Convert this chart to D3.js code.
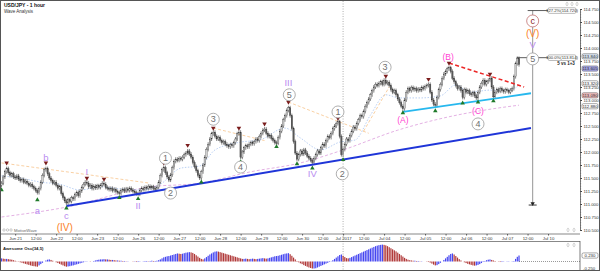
<!DOCTYPE html>
<html>
<head>
<meta charset="utf-8">
<script src="https://cdn.jsdelivr.net/npm/d3@7"></script>
<style>
body { margin: 0; background: #fff; }
svg { display: block; font-family: "Liberation Sans", Arial, sans-serif; }
</style>
</head>
<body>
<svg id="chart" width="600" height="271"></svg>
<script>
// hourly closes, bar 0 = Jun 20 16:00, bar 8 = Jun 21 00:00
var firstOpen = 111.36;
var closes = [
  111.40,111.52,111.62,111.68,111.60,111.55,111.58,111.52,111.50,111.54,111.48,111.45,
  111.47,111.42,111.44,111.40,111.36,111.38,111.33,111.30,111.26,111.22,111.30,111.42,
  111.55,111.66,111.68,111.58,111.50,111.45,111.40,111.42,111.36,111.30,111.33,111.20,
  111.12,111.06,111.02,111.08,111.05,111.12,111.10,111.18,111.22,111.16,111.25,111.32,
  111.38,111.42,111.40,111.33,111.36,111.30,111.34,111.31,111.35,111.32,111.36,111.40,
  111.38,111.32,111.30,111.28,111.30,111.26,111.28,111.24,111.22,111.20,111.26,111.28,
  111.25,111.29,111.26,111.30,111.27,111.24,111.22,111.20,111.19,111.26,111.30,111.28,
  111.32,111.30,111.34,111.31,111.33,111.30,111.28,111.32,111.42,111.55,111.66,111.70,
  111.60,111.52,111.46,111.56,111.70,111.82,111.86,111.84,111.88,111.86,111.90,111.95,
  111.98,112.02,111.96,111.90,111.80,111.72,111.64,111.55,111.50,111.62,111.75,111.90,
  112.05,112.15,112.25,112.35,112.38,112.30,112.25,112.28,112.22,112.18,112.20,112.15,
  112.12,112.10,112.14,112.12,112.18,112.25,112.35,112.38,111.90,112.00,112.08,112.12,
  112.10,112.15,112.18,112.16,112.20,112.25,112.22,112.30,112.36,112.42,112.44,112.36,
  112.30,112.32,112.26,112.22,112.18,112.17,112.28,112.40,112.50,112.62,112.70,112.80,
  112.85,112.70,112.45,112.20,111.98,111.86,111.95,112.02,111.96,112.04,111.98,111.92,
  111.88,111.84,111.80,111.88,111.95,112.02,111.98,112.08,112.15,112.12,112.22,112.30,
  112.28,112.36,112.45,112.50,112.55,112.58,112.30,111.95,112.05,112.15,112.25,112.22,
  112.32,112.40,112.48,112.45,112.55,112.62,112.70,112.68,112.78,112.88,112.95,113.02,
  113.10,113.18,113.25,113.30,113.28,113.32,113.35,113.30,113.38,113.32,113.34,113.28,
  113.20,113.15,113.18,113.10,113.02,112.95,112.88,112.83,113.00,113.15,113.22,113.18,
  113.24,113.20,113.22,113.18,113.21,113.19,113.24,113.22,113.26,113.28,113.30,113.15,
  113.00,112.92,112.90,113.05,113.20,113.30,113.42,113.50,113.55,113.60,113.62,113.55,
  113.42,113.35,113.28,113.22,113.25,113.18,113.05,113.20,113.15,113.18,113.12,113.10,
  113.14,113.08,113.04,113.15,113.25,113.32,113.38,113.30,113.35,113.38,113.42,113.25,
  113.06,113.15,113.20,113.17,113.22,113.18,113.16,113.20,113.18,113.15,113.19,113.22,
  113.45,113.70,113.80,113.68
];

// Awesome Oscillator, one value per bar
var aoValues = [
  0.12,0.11,0.10,0.10,0.09,0.08,0.07,0.05,
  0.03,0.01,-0.01,-0.03,-0.05,-0.07,-0.09,-0.11,-0.13,-0.15,-0.17,-0.18,-0.19,-0.20,
  -0.15,-0.10,-0.05,0.00,0.04,0.07,0.08,
  0.06,0.03,0.00,-0.03,-0.06,-0.09,-0.12,-0.15,-0.18,-0.20,
  -0.19,-0.18,-0.16,-0.15,-0.13,-0.11,-0.09,-0.07,-0.05,-0.03,-0.01,0.01,
  0.00,-0.01,0.00,0.02,
  0.04,0.06,0.07,0.08,0.08,0.09,0.08,0.08,0.07,0.06,0.06,0.05,
  0.04,0.04,0.03,0.03,0.02,0.02,0.01,0.01,0.00,0.00,-0.01,-0.01,-0.02,-0.02,-0.01,
  0.00,0.01,0.02,0.02,0.01,0.02,0.03,0.02,0.02,
  0.03,0.05,0.08,0.12,0.16,0.18,0.20,0.21,0.23,0.25,0.27,0.29,0.31,0.30,0.29,
  0.30,0.32,0.34,0.35,0.36,0.35,0.33,
  0.29,0.24,0.19,0.14,0.10,0.08,
  0.12,0.17,0.22,0.27,0.31,0.35,0.38,0.39,
  0.38,0.36,0.34,0.32,0.30,0.28,0.26,0.24,0.22,0.20,0.18,0.16,0.14,0.12,
  0.10,0.10,0.11,0.10,0.09,0.10,0.11,0.10,0.09,0.10,0.11,0.12,0.13,0.12,0.11,0.12,
  0.14,0.16,0.18,0.20,0.21,0.22,0.24,0.26,0.28,0.30,0.31,0.32,
  0.28,0.22,0.15,0.08,0.02,-0.03,-0.07,
  -0.10,-0.14,-0.17,-0.20,-0.23,-0.25,-0.27,-0.27,-0.26,
  -0.23,-0.20,-0.17,-0.14,-0.11,-0.08,-0.05,-0.02,0.01,0.05,
  0.10,0.15,0.20,0.25,0.27,
  0.22,0.17,0.13,0.12,
  0.14,0.17,0.20,0.23,0.26,0.29,0.32,0.35,0.38,0.41,0.44,0.47,0.50,0.53,0.56,0.59,0.61,0.63,0.64,0.65,
  0.64,0.62,0.59,0.55,0.51,0.47,0.43,0.39,0.34,0.29,0.24,0.19,0.14,0.10,0.07,
  0.05,0.04,0.03,0.03,0.02,0.02,0.01,0.01,0.00,0.00,-0.01,-0.02,-0.04,
  -0.08,-0.12,-0.15,-0.14,
  -0.10,-0.05,0.00,0.06,0.12,0.18,0.24,0.29,0.31,
  0.27,0.21,0.15,0.09,0.04,0.00,
  -0.03,-0.06,-0.09,-0.11,-0.13,-0.15,-0.16,-0.15,-0.13,-0.10,
  -0.06,-0.02,0.02,0.05,0.07,0.08,
  0.06,0.04,0.02,0.00,-0.01,-0.02,-0.02,-0.01,
  0.00,0.01,0.01,0.00,0.01,0.02,
  0.10,0.18,0.23
];

var timeLabels = ["Jun 21","12:00","Jun 22","12:00","Jun 23","12:00","Jun 26","12:00","Jun 27","12:00",
  "Jun 28","12:00","Jun 29","12:00","Jun 30","12:00","Jul 2017","12:00","Jul 04","12:00",
  "Jul 05","12:00","Jul 06","12:00","Jul 07","12:00","Jul 10"];
var priceTicks = [110.5,110.75,111,111.25,111.5,111.75,112,112.25,112.5,112.75,113,113.25,113.5,113.75,114,114.25,114.5,114.75];

// moving averages: [bar, price]
var fastMA = [[0,111.54],[11,111.50],[23,111.42],[34,111.38],[46,111.27],[58,111.33],[70,111.29],[81,111.27],
  [93,111.38],[105,111.69],[116,111.73],[125,112.04],[140,112.19],[151,112.23],[166,112.46],[175,112.27],
  [187,112.04],[198,112.19],[207,112.23],[216,112.71],[225,113.10],[233,113.04],[245,113.04],[257,113.08],
  [266,113.29],[274,113.15],[286,113.19],[298,113.19],[303,113.29]];
var slowMA = [[0,110.75],[38,110.94],[87,111.33],[116,111.40],[146,111.62],[175,111.79],[200,112.04],
  [232,112.42],[261,112.67],[296,112.87],[303,112.90]];

// trend lines: [bar1, price1, bar2, price2]
var blueLine = [38, 110.96, 310, 112.46];
var cyanLine = [235, 112.77, 310, 113.13];
var redLine = [262, 113.71, 306, 113.25];
var orangeLines = [[0, 111.79, 87, 111.40], [124, 112.46, 154, 112.22], [168, 112.96, 215, 112.36], [212, 112.40, 227, 113.25]];

// fractal markers [bar, price]
var fractalHighs = [[3,111.79],[26,111.79],[50,111.50],[60,111.48],[95,111.79],[109,112.13],[124,112.46],
  [139,112.46],[154,112.54],[168,112.96],[197,112.65],[225,113.46],[250,113.40],[262,113.71],[286,113.50]];
var fractalLows = [[0,111.27],[21,111.08],[38,110.92],[69,111.12],[80,111.10],[117,111.42],[140,111.81],
  [161,112.10],[173,111.77],[182,111.69],[200,111.85],[235,112.75],[254,112.79],[270,112.94],[279,112.96],[288,112.98]];

// wave labels [text, bar, price]
var minorWaves = [["a",21,110.87],["b",26,111.90],["c",38,110.77],["I",50,111.62],["II",80,110.96],
  ["III",168,113.33],["IV",182,111.58],["V",311,114.06]];
var intermediateWaves = [["(IV)",37,110.54],["(V)",311,114.27]];
var abcWaves = [["(A)",235,112.62],["(B)",261.5,113.83],["(C)",279,112.79]];
var circledWaves = [["1",96,111.88],["2",99,111.21],["3",124,112.63],["4",140,111.71],["5",168.5,113.10],
  ["1",197,112.77],["2",199.5,111.58],["3",224.6,113.63],["4",279,112.54],["5",311,113.79]];
var cycleWaves = [["c",311,114.52]];

var fibPrices = [114.72, 113.814];
var fibTexts = ["127.2%(114.720)", "100.0%(113.814)"];
var measureBar = 311, measureFrom = 114.72, measureTo = 110.98;

var markerPrices = [113.84, 113.605, 113.32, 113.09, 112.88];
var markerFills = ["#dbe7f3", "#a9a9ea", "#ffffff", "#f2c0c0", "#ffffff"];

var svg = d3.select("#chart");
var x = d3.scaleLinear().domain([0, 339]).range([1.5, 580.5]);
var y = d3.scaleLinear().domain([110.5, 114.75]).range([230, 9]);
var yAO = d3.scaleLinear().domain([-0.25, 0]).range([268, 261.5]);
var axisX = 580;

svg.append("defs").append("clipPath").attr("id", "clipMain")
  .append("rect").attr("x", 1).attr("y", 1).attr("width", axisX - 1).attr("height", 233);
svg.select("defs").append("clipPath").attr("id", "clipAO")
  .append("rect").attr("x", 1).attr("y", 241).attr("width", axisX - 1).attr("height", 29);

svg.append("rect").attr("x", 0).attr("y", 0).attr("width", 600).attr("height", 271).attr("fill", "#fff");

// dotted separator at month start
svg.append("line").attr("x1", x(200)).attr("x2", x(200)).attr("y1", 1).attr("y2", 270)
  .attr("stroke", "#999").attr("stroke-width", 0.8).attr("stroke-dasharray", "1,1.5");

var main = svg.append("g").attr("clip-path", "url(#clipMain)");

function lineOf(pts) {
  return d3.line().x(function(d){ return x(d[0]); }).y(function(d){ return y(d[1]); }).curve(d3.curveMonotoneX)(pts);
}
main.append("path").attr("d", lineOf(slowMA)).attr("fill", "none")
  .attr("stroke", "#e0a8e0").attr("stroke-width", 0.9).attr("stroke-dasharray", "3,2");
main.append("path").attr("d", lineOf(fastMA)).attr("fill", "none")
  .attr("stroke", "#a8c4f0").attr("stroke-width", 0.8).attr("stroke-dasharray", "1.5,1.5");
main.selectAll("line.orange").data(orangeLines).join("line")
  .attr("x1", function(d){ return x(d[0]); }).attr("y1", function(d){ return y(d[1]); })
  .attr("x2", function(d){ return x(d[2]); }).attr("y2", function(d){ return y(d[3]); })
  .attr("stroke", "#f7c48c").attr("stroke-width", 0.8).attr("stroke-dasharray", "3,2");

// candles
var bars = closes.map(function(c, i){ return {i: i, o: i ? closes[i - 1] : firstOpen, c: c}; });
main.selectAll("line.wick").data(bars).join("line")
  .attr("x1", function(d){ return x(d.i); }).attr("x2", function(d){ return x(d.i); })
  .attr("y1", function(d){ return y(Math.max(d.o, d.c)) - 2; })
  .attr("y2", function(d){ return y(Math.min(d.o, d.c)) + 2; })
  .attr("stroke", "#333").attr("stroke-width", 0.6);
main.selectAll("rect.body").data(bars).join("rect")
  .attr("x", function(d){ return x(d.i) - 0.7; }).attr("width", 1.4)
  .attr("y", function(d){ return y(Math.max(d.o, d.c)); })
  .attr("height", function(d){ return Math.max(0.8, Math.abs(y(d.o) - y(d.c))); })
  .attr("fill", function(d){ return d.c >= d.o ? "#d0d0d0" : "#5a5a5a"; })
  .attr("stroke", "#333").attr("stroke-width", 0.3);

// trend lines
function seg(l, color, w, dash) {
  main.append("line").attr("x1", x(l[0])).attr("y1", y(l[1])).attr("x2", x(l[2])).attr("y2", y(l[3]))
    .attr("stroke", color).attr("stroke-width", w).attr("stroke-dasharray", dash || null);
}
seg(blueLine, "#1f35d8", 2);
seg(cyanLine, "#27b8ee", 1.8);
seg(redLine, "#ec2727", 1.5, "4,2.5");

// fractals
main.selectAll("path.fh").data(fractalHighs).join("path")
  .attr("d", d3.symbol(d3.symbolTriangle).size(9))
  .attr("transform", function(d){ return "translate(" + x(d[0]) + "," + y(d[1]) + ") rotate(180)"; })
  .attr("fill", "#7a1c1c");
main.selectAll("path.fl").data(fractalLows).join("path")
  .attr("d", d3.symbol(d3.symbolTriangle).size(9))
  .attr("transform", function(d){ return "translate(" + x(d[0]) + "," + y(d[1]) + ")"; })
  .attr("fill", "#1f7a2a");

// measure tool and fib levels
svg.append("line").attr("x1", x(measureBar)).attr("x2", x(measureBar))
  .attr("y1", y(measureFrom)).attr("y2", y(measureTo)).attr("stroke", "#8a8a8a").attr("stroke-width", 0.9);
svg.append("line").attr("x1", x(measureBar) - 4).attr("x2", x(measureBar) + 4)
  .attr("y1", y(measureTo)).attr("y2", y(measureTo)).attr("stroke", "#222").attr("stroke-width", 0.9);
svg.append("path").attr("d", d3.symbol(d3.symbolTriangle).size(8))
  .attr("transform", "translate(" + x(measureBar) + "," + (y(measureTo) - 1.5) + ") rotate(180)").attr("fill", "#222");
fibPrices.forEach(function(p, k) {
  var x0 = k === 0 ? x(measureBar) - 5 : x(measureBar) - 16;
  svg.append("line").attr("x1", x0).attr("x2", 548).attr("y1", y(p)).attr("y2", y(p))
    .attr("stroke", "#333").attr("stroke-width", 0.8);
  svg.append("rect").attr("x", 548).attr("y", y(p) - 2.8).attr("width", 28).attr("height", 5.6)
    .attr("rx", 1.5).attr("fill", "#fff").attr("stroke", "#777").attr("stroke-width", 0.5);
  svg.append("text").attr("x", 562).attr("y", y(p) + 1.5).attr("text-anchor", "middle")
    .attr("font-size", 4.2).attr("fill", "#333").text(fibTexts[k]);
});
svg.append("text").attr("x", 566).attr("y", y(fibPrices[1]) + 7.5).attr("text-anchor", "middle")
  .attr("font-size", 4.5).attr("font-weight", "bold").attr("fill", "#222").text("5 vs 1+3");

// wave labels
var labels = svg.append("g");
function waveText(data, color, size) {
  labels.selectAll(null).data(data).join("text")
    .attr("x", function(d){ return x(d[1]); }).attr("y", function(d){ return y(d[2]); })
    .attr("dy", "0.35em").attr("text-anchor", "middle")
    .attr("font-size", size).attr("fill", color).text(function(d){ return d[0]; });
}
function circled(data, stroke, color) {
  var g = labels.selectAll(null).data(data).join("g")
    .attr("transform", function(d){ return "translate(" + x(d[1]) + "," + y(d[2]) + ")"; });
  g.append("circle").attr("r", 6).attr("fill", "#fff").attr("stroke", stroke).attr("stroke-width", 0.8);
  g.append("text").attr("dy", "0.36em").attr("text-anchor", "middle").attr("font-size", 9)
    .attr("fill", color).text(function(d){ return d[0]; });
}
waveText(minorWaves, "#b98cf0", 9.5);
waveText(intermediateWaves, "#fa8228", 10);
waveText(abcWaves, "#ff3fd2", 8.5);
circled(circledWaves, "#9a9a9a", "#6f6f6f");
circled(cycleWaves, "#c07070", "#8c1c1c");

// price axis
var pAxis = svg.append("g").attr("transform", "translate(" + axisX + ",0)")
  .call(d3.axisRight(y).tickValues(priceTicks).tickFormat(d3.format(".3f")).tickSize(2).tickPadding(1.5));
pAxis.select(".domain").attr("stroke", "#444").attr("stroke-width", 0.7);
pAxis.selectAll("line").attr("stroke", "#444");
pAxis.selectAll("text").attr("font-size", 4.3).attr("fill", "#333").attr("font-family", "Liberation Sans, Arial");
svg.append("g").attr("transform", "translate(" + axisX + ",0)")
  .call(d3.axisRight(y).tickValues(d3.range(0, 86).map(function(k){ return 110.5 + k * 0.05; })).tickFormat("").tickSize(1.2))
  .call(function(g){ g.select(".domain").remove(); g.selectAll("line").attr("stroke", "#555").attr("stroke-width", 0.5); });

// highlighted price markers
markerPrices.forEach(function(p, k) {
  svg.append("rect").attr("x", 582).attr("y", y(p) - 2.6).attr("width", 16).attr("height", 5.2)
    .attr("rx", 1.5).attr("fill", markerFills[k]).attr("stroke", "#555").attr("stroke-width", 0.5);
  svg.append("text").attr("x", 590).attr("y", y(p) + 1.5).attr("text-anchor", "middle")
    .attr("font-size", 4.3).attr("fill", "#222").text(d3.format(".3f")(p));
});

// time axis
var tAxis = svg.append("g").attr("transform", "translate(0,234)")
  .call(d3.axisBottom(x).tickValues(timeLabels.map(function(t, k){ return 8 + 12 * k; }))
    .tickFormat(function(d, k){ return timeLabels[k]; }).tickSize(1.5).tickPadding(1));
tAxis.select(".domain").attr("d", "M1,0H" + axisX).attr("stroke", "#555").attr("stroke-width", 0.7);
tAxis.selectAll("line").attr("stroke", "#555");
tAxis.selectAll("text").attr("font-size", 4.3).attr("fill", "#333").attr("font-family", "Liberation Sans, Arial");
svg.append("line").attr("x1", 1).attr("x2", axisX).attr("y1", 241.5).attr("y2", 241.5)
  .attr("stroke", "#555").attr("stroke-width", 0.7);

// AO panel
var ao = svg.append("g").attr("clip-path", "url(#clipAO)");
ao.selectAll("rect").data(aoValues).join("rect")
  .attr("x", function(d, i){ return x(i) - 0.6; }).attr("width", 1.2)
  .attr("y", function(d){ return Math.min(yAO(d), yAO(0)); })
  .attr("height", function(d){ return Math.abs(yAO(d) - yAO(0)); })
  .attr("fill", function(d, i){ return i > 0 && d < aoValues[i - 1] ? "#b03838" : "#4545f0"; });
svg.append("line").attr("x1", x(aoValues.length - 1)).attr("x2", axisX).attr("y1", yAO(0)).attr("y2", yAO(0))
  .attr("stroke", "#333").attr("stroke-width", 0.5).attr("stroke-dasharray", "1,1");
svg.append("line").attr("x1", axisX).attr("x2", axisX).attr("y1", 241).attr("y2", 271)
  .attr("stroke", "#444").attr("stroke-width", 0.7);
svg.append("text").attr("x", 583).attr("y", yAO(-0.25) + 1.5).attr("font-size", 4.3).attr("fill", "#333").text("-0.250");
var lastAO = aoValues[aoValues.length - 1];
svg.append("rect").attr("x", 582).attr("y", yAO(lastAO) - 2.6).attr("width", 16).attr("height", 5.2)
  .attr("rx", 1.5).attr("fill", "#fff").attr("stroke", "#555").attr("stroke-width", 0.5);
svg.append("text").attr("x", 590).attr("y", yAO(lastAO) + 1.5).attr("text-anchor", "middle")
  .attr("font-size", 4.3).attr("fill", "#222").text(d3.format(".3f")(lastAO));
svg.append("text").attr("x", 3).attr("y", 250).attr("font-size", 4.3).attr("font-weight", "bold")
  .attr("fill", "#222").text("Awesome Osc(34,5)");

// titles and watermark
svg.append("text").attr("x", 4).attr("y", 7).attr("font-size", 5).attr("font-weight", "bold")
  .attr("fill", "#111").text("USD/JPY - 1 hour");
svg.append("text").attr("x", 4).attr("y", 13).attr("font-size", 4.5).attr("fill", "#333").text("Wave Analysis");
[4, 7.5, 11].forEach(function(cx){
  svg.append("circle").attr("cx", cx).attr("cy", 230).attr("r", 1.2).attr("fill", "none")
    .attr("stroke", "#999").attr("stroke-width", 0.5);
});
svg.append("text").attr("x", 14).attr("y", 231.5).attr("font-size", 4.2).attr("fill", "#666").text("MotiveWave");
[[567, 4], [572, 4], [577, 4], [568, 230], [574, 230], [568, 245], [574, 245]].forEach(function(p){
  svg.append("path").attr("d", d3.symbol(d3.symbolDiamond).size(5)).attr("transform", "translate(" + p[0] + "," + p[1] + ")")
    .attr("fill", "none").attr("stroke", "#aaa").attr("stroke-width", 0.5);
});

// frame
svg.append("rect").attr("x", 0.5).attr("y", 0.5).attr("width", 599).attr("height", 270)
  .attr("fill", "none").attr("stroke", "#555").attr("stroke-width", 1);
</script>
</body>
</html>
